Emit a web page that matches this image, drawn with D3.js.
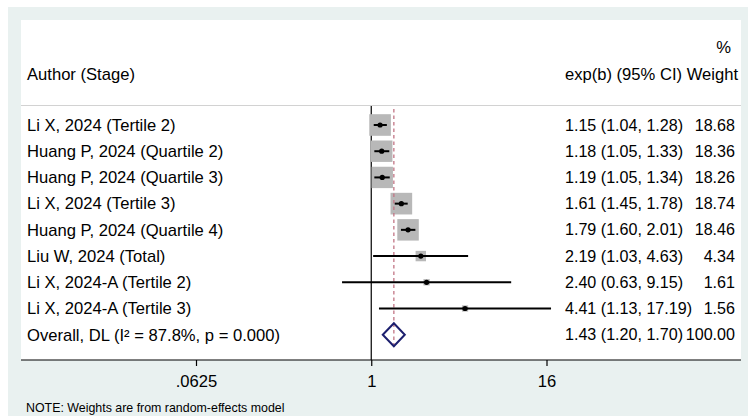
<!DOCTYPE html>
<html>
<head>
<meta charset="utf-8">
<script src="https://cdn.jsdelivr.net/npm/d3@7"></script>
<style>
  html, body { margin: 0; padding: 0; background: #ffffff; }
  svg { display: block; font-family: "Liberation Sans", Arial, sans-serif; }
</style>
</head>
<body>
<svg id="chart" width="748" height="416"></svg>
<script>
// ---- data ----
const studies = ["Li X, 2024 (Tertile 2)", "Huang P, 2024 (Quartile 2)", "Huang P, 2024 (Quartile 3)",
  "Li X, 2024 (Tertile 3)", "Huang P, 2024 (Quartile 4)", "Liu W, 2024 (Total)",
  "Li X, 2024-A (Tertile 2)", "Li X, 2024-A (Tertile 3)"];
const es     = [1.15, 1.18, 1.19, 1.61, 1.79, 2.19, 2.40, 4.41];
const lower  = [1.04, 1.05, 1.05, 1.45, 1.60, 1.03, 0.63, 1.13];
const upper  = [1.28, 1.33, 1.34, 1.78, 2.01, 4.63, 9.15, 17.19];
const weights = [18.68, 18.36, 18.26, 18.74, 18.46, 4.34, 1.61, 1.56];
const ciText = ["1.15 (1.04, 1.28)", "1.18 (1.05, 1.33)", "1.19 (1.05, 1.34)", "1.61 (1.45, 1.78)",
  "1.79 (1.60, 2.01)", "2.19 (1.03, 4.63)", "2.40 (0.63, 9.15)", "4.41 (1.13, 17.19)"];
const weightText = ["18.68", "18.36", "18.26", "18.74", "18.46", "4.34", "1.61", "1.56"];
const overall = { es: 1.43, lo: 1.20, hi: 1.70, ci: "1.43 (1.20, 1.70)", w: "100.00", i2: "87.8%", p: "0.000" };
const tickValues = [0.0625, 1, 16];
const tickLabels = [".0625", "1", "16"];

// ---- layout ----
const svg = d3.select("#chart");
const W = 748, H = 416;
const FS = 16.6;
const FSR = 16.1;

svg.append("rect").attr("x", 8).attr("y", 7).attr("width", W - 8).attr("height", H - 7).attr("fill", "#e9f1f0");
svg.append("rect").attr("x", 21).attr("y", 20).attr("width", 720).attr("height", 340).attr("fill", "#ffffff");

const x = d3.scaleLog().base(2).domain([0.0625, 16]).range([196, 546.5]);
const y = d3.scaleLinear().domain([0, 8]).range([125, 334.7]);
const boxK = 5.0;

// header
svg.append("text").attr("x", 27).attr("y", 80).attr("font-size", FS).text("Author (Stage)");
svg.append("text").attr("x", 731).attr("y", 53).attr("font-size", FS).attr("text-anchor", "end").text("%");
svg.append("text").attr("x", 738).attr("y", 80).attr("font-size", FS).attr("text-anchor", "end").text("exp(b) (95% CI) Weight");
svg.append("line").attr("x1", 21).attr("x2", 741).attr("y1", 105.5).attr("y2", 105.5)
  .attr("stroke", "#d2d2d2").attr("stroke-width", 1.2);

// null line at 1
svg.append("line").attr("x1", x(1)).attr("x2", x(1)).attr("y1", 106).attr("y2", 360)
  .attr("stroke", "#000").attr("stroke-width", 1.2);

// boxes
const rows = studies.map((s, i) => ({ s, i, es: es[i], lo: lower[i], hi: upper[i], w: weights[i] }));
svg.selectAll("rect.box").data(rows).enter().append("rect")
  .attr("class", "box")
  .attr("x", d => x(d.es) - boxK * Math.sqrt(d.w) / 2)
  .attr("y", d => y(d.i) - boxK * Math.sqrt(d.w) / 2)
  .attr("width", d => boxK * Math.sqrt(d.w))
  .attr("height", d => boxK * Math.sqrt(d.w))
  .attr("fill", "#b8b8b8");

// overall dashed line
svg.append("line").attr("x1", x(overall.es)).attr("x2", x(overall.es)).attr("y1", 109).attr("y2", y(8) + 12)
  .attr("stroke", "#c27585").attr("stroke-width", 1.3).attr("stroke-dasharray", "3.5,3");

// CI lines
svg.selectAll("line.ci").data(rows).enter().append("line")
  .attr("x1", d => x(d.lo)).attr("x2", d => x(d.hi))
  .attr("y1", d => y(d.i)).attr("y2", d => y(d.i))
  .attr("stroke", "#000").attr("stroke-width", 2);

// points
svg.selectAll("circle.pt").data(rows).enter().append("circle")
  .attr("cx", d => x(d.es)).attr("cy", d => y(d.i)).attr("r", 2.6).attr("fill", "#000");

// diamond
const yo = y(8), dh = 11.5;
svg.append("path")
  .attr("d", `M${x(overall.lo)},${yo} L${x(overall.es)},${yo - dh} L${x(overall.hi)},${yo} L${x(overall.es)},${yo + dh} Z`)
  .attr("fill", "none").attr("stroke", "#1c1f6e").attr("stroke-width", 2);

// labels
svg.selectAll("text.lab").data(rows).enter().append("text")
  .attr("x", 27).attr("y", d => y(d.i)).attr("dy", "0.35em").attr("font-size", FS).text(d => d.s);
svg.selectAll("text.ci").data(rows).enter().append("text")
  .attr("x", 565).attr("y", d => y(d.i)).attr("dy", "0.35em").attr("font-size", FSR).text((d) => ciText[d.i]);
svg.selectAll("text.wt").data(rows).enter().append("text")
  .attr("x", 735).attr("y", d => y(d.i)).attr("dy", "0.35em").attr("font-size", FSR)
  .attr("text-anchor", "end").text(d => weightText[d.i]);

// overall label
svg.append("text").attr("x", 27).attr("y", yo).attr("dy", "0.35em").attr("font-size", FS)
  .text(`Overall, DL (I\u00B2 = ${overall.i2}, p = ${overall.p})`);
svg.append("text").attr("x", 565).attr("y", yo).attr("dy", "0.35em").attr("font-size", FSR).text(overall.ci);
svg.append("text").attr("x", 735).attr("y", yo).attr("dy", "0.35em").attr("font-size", FSR)
  .attr("text-anchor", "end").text(overall.w);

// axis
svg.append("line").attr("x1", 21).attr("x2", 741).attr("y1", 360).attr("y2", 360)
  .attr("stroke", "#000").attr("stroke-width", 1.2);
const axis = d3.axisBottom(x).tickValues(tickValues).tickSize(6).tickPadding(9)
  .tickFormat((d, i) => tickLabels[i]);
const ag = svg.append("g").attr("transform", "translate(0,360)").call(axis);
ag.select(".domain").remove();
ag.selectAll("text").attr("font-size", FS).attr("font-family", "Liberation Sans, Arial, sans-serif").attr("fill", "#000");
ag.selectAll("line").attr("stroke", "#000").attr("stroke-width", 1.2);

// note
svg.append("text").attr("x", 26).attr("y", 412).attr("font-size", 12.4).text("NOTE: Weights are from random-effects model");
</script>
</body>
</html>
